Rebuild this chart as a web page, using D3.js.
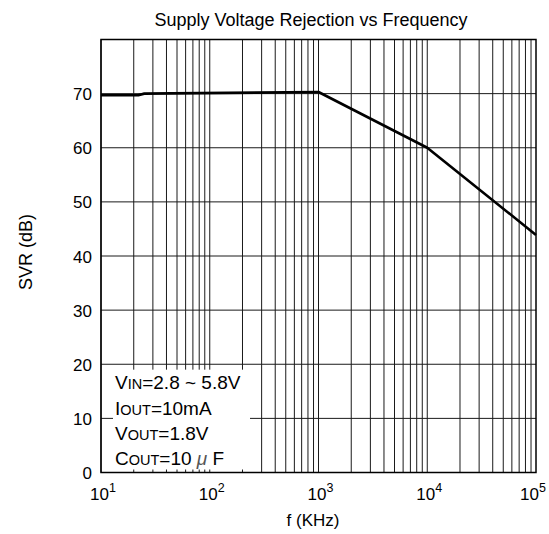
<!DOCTYPE html>
<html lang="en">
<head>
<meta charset="UTF-8">
<title>SVR vs Frequency</title>
<script src="https://cdn.jsdelivr.net/npm/d3@7"></script>
<style>
  body { margin: 0; background: #fff; }
  svg text { font-family: "Liberation Sans", Arial, sans-serif; fill: #000; }
</style>
</head>
<body>
<div id="chart"></div>
<script>
// data
var freq = [10, 22, 25, 1000, 10000, 100000];      // KHz
var svr  = [69.7, 69.7, 70.0, 70.3, 60.0, 43.9];    // dB

var yTicks = [0, 10, 20, 30, 40, 50, 60, 70];
var xDecades = [1, 2, 3, 4, 5];
var notes = [
  ["V", "IN", "=2.8 ~ 5.8V"],
  ["I", "OUT", "=10mA"],
  ["V", "OUT", "=1.8V"],
  ["C", "OUT", "=10 ", "\u03bc", " F"]
];

var W = 549, H = 534;
var margin = {top: 39.5, right: 13, bottom: 61.5, left: 101};
var width = W - margin.left - margin.right;
var height = H - margin.top - margin.bottom;

var svg = d3.select("#chart").append("svg")
    .attr("width", W)
    .attr("height", H);

var g = svg.append("g")
    .attr("transform", "translate(" + margin.left + "," + margin.top + ")");

var x = d3.scaleLog().domain([10, 100000]).range([0, width]);
var y = d3.scaleLinear().domain([0, 80]).range([height, 0]);

// vertical grid: 1..9 per decade
var xGrid = [];
for (var e = 1; e < 5; e++) {
  for (var k = 1; k < 10; k++) xGrid.push(k * Math.pow(10, e));
}

g.selectAll("line.vgrid")
    .data(xGrid)
    .enter().append("line")
    .attr("class", "vgrid")
    .attr("x1", function(d) { return x(d); })
    .attr("x2", function(d) { return x(d); })
    .attr("y1", 0)
    .attr("y2", height)
    .attr("stroke", "#1a1a1a")
    .attr("stroke-width", 1);

g.selectAll("line.hgrid")
    .data(yTicks.slice(1))
    .enter().append("line")
    .attr("class", "hgrid")
    .attr("x1", 0)
    .attr("x2", width)
    .attr("y1", function(d) { return y(d); })
    .attr("y2", function(d) { return y(d); })
    .attr("stroke", "#1a1a1a")
    .attr("stroke-width", 1);

// white box behind the conditions text
g.append("rect")
    .attr("x", 12)
    .attr("y", y(19))
    .attr("width", 137)
    .attr("height", y(0) - y(19) - 3)
    .attr("fill", "#fff");

// frame
g.append("rect")
    .attr("x", 0)
    .attr("y", 0)
    .attr("width", width)
    .attr("height", height)
    .attr("fill", "none")
    .attr("stroke", "#000")
    .attr("stroke-width", 1.5);

// curve
var pts = freq.map(function(f, i) { return [f, svr[i]]; });
g.append("path")
    .datum(pts)
    .attr("fill", "none")
    .attr("stroke", "#000")
    .attr("stroke-width", 2.6)
    .attr("stroke-linejoin", "round")
    .attr("d", d3.line()
        .x(function(d) { return x(d[0]); })
        .y(function(d) { return y(d[1]); }));

// y tick labels
g.selectAll("text.ylab")
    .data(yTicks)
    .enter().append("text")
    .attr("class", "ylab")
    .attr("x", -9)
    .attr("y", function(d) { return y(d) + 6.5; })
    .attr("text-anchor", "end")
    .style("font-size", "17px")
    .text(function(d) { return d; });

// x tick labels 10^n (last one pulled in so it stays on the page)
var xl = g.selectAll("text.xlab")
    .data(xDecades)
    .enter().append("text")
    .attr("class", "xlab")
    .attr("x", function(d, i) {
      return x(Math.pow(10, d)) + (i == xDecades.length - 1 ? -3 : 2);
    })
    .attr("y", height + 27.5)
    .attr("text-anchor", "middle")
    .style("font-size", "17px");
xl.append("tspan").text("10");
xl.append("tspan")
    .attr("dy", -8)
    .style("font-size", "12.5px")
    .text(function(d) { return d; });

// axis titles
svg.append("text")
    .attr("x", 311)
    .attr("y", 26)
    .attr("text-anchor", "middle")
    .style("font-size", "18px")
    .text("Supply Voltage Rejection vs Frequency");

svg.append("text")
    .attr("x", 313)
    .attr("y", 526)
    .attr("text-anchor", "middle")
    .style("font-size", "17px")
    .text("f (KHz)");

svg.append("text")
    .attr("transform", "translate(32," + (margin.top + height / 2 - 4) + ") rotate(-90)")
    .attr("text-anchor", "middle")
    .style("font-size", "18px")
    .text("SVR (dB)");

// conditions text
var nt = g.selectAll("text.note")
    .data(notes)
    .enter().append("text")
    .attr("class", "note")
    .attr("x", 14)
    .attr("y", function(d, i) { return y(20) + 25 + i * 25.3; })
    .style("font-size", "19px");
nt.each(function(d) {
  var t = d3.select(this);
  t.append("tspan").text(d[0]);
  t.append("tspan").style("font-size", "14.5px").text(d[1]);
  t.append("tspan").text(d[2]);
  if (d.length > 3) {
    t.append("tspan").style("font-style", "italic").style("fill", "#555").text(d[3]);
    t.append("tspan").text(d[4]);
  }
});
</script>
</body>
</html>
